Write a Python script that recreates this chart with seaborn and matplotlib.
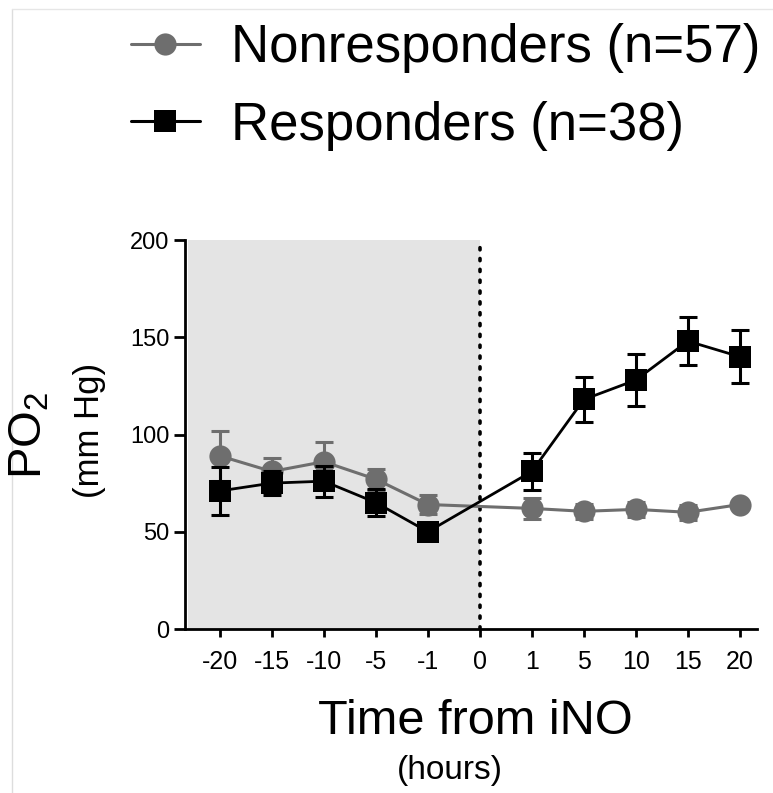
import matplotlib
matplotlib.use("Agg")
import matplotlib.pyplot as plt
from matplotlib.lines import Line2D
import numpy as np
import pandas as pd
import seaborn as sns

# Categorical time axis (hours from iNO start)
tick_labels = ["-20", "-15", "-10", "-5", "-1", "0", "1", "5", "10", "15", "20"]
hours = ["-20", "-15", "-10", "-5", "-1", "1", "5", "10", "15", "20"]

# PO2 (mm Hg), mean and SEM per group
nonresp_mean = [89, 81, 86, 77, 64, 62, 60.5, 61.5, 60, 64]
nonresp_sem = [13, 7, 10, 5.5, 5, 5.5, 4, 4, 4, 2]
resp_mean = [71, 75, 76, 65, 50, 81, 118, 128, 148, 140]
resp_sem = [12.5, 6, 8, 7, 3, 9.5, 11.5, 13.5, 12.5, 13.5]

groups = ["Nonresponders (n=57)", "Responders (n=38)"]
colors = {groups[0]: "#6e6e6e", groups[1]: "#000000"}

sns.set_style("ticks")
plt.rcParams["font.family"] = ["Liberation Sans", "DejaVu Sans"]
plt.rcParams["mathtext.fontset"] = "custom"
plt.rcParams["mathtext.rm"] = "Liberation Sans"
plt.rcParams["text.color"] = "black"
plt.rcParams["xtick.color"] = "black"
plt.rcParams["ytick.color"] = "black"
plt.rcParams["axes.edgecolor"] = "black"

pos = {lab: i for i, lab in enumerate(tick_labels)}
df = pd.DataFrame({
    "x": [pos[h] for h in hours] * 2,
    "po2": nonresp_mean + resp_mean,
    "sem": nonresp_sem + resp_sem,
    "group": [groups[0]] * len(hours) + [groups[1]] * len(hours),
})

fig = plt.figure(figsize=(7.73, 7.93), dpi=100)
ax = fig.add_axes([185 / 773, 1 - 629 / 793, (757 - 185) / 773, (629 - 240) / 793])

xlim = (-0.67, 10.33)
# Pre-iNO baseline period shading and the iNO start marker
ax.axvspan(xlim[0] + 0.05, pos["0"], ymin=0, ymax=1, color="#e4e4e4", zorder=0, lw=0)
ax.plot([pos["0"], pos["0"]], [0, 200], color="black", lw=2.6,
        linestyle=(0, (0.6, 2.4)), dash_capstyle="round", zorder=1)

styles = {
    groups[0]: dict(marker="o", lw=2.2, z=3),
    groups[1]: dict(marker="s", lw=2.0, z=4),
}
for g in groups:
    sub = df[df.group == g]
    st = styles[g]
    ax.errorbar(sub["x"], sub["po2"], yerr=sub["sem"], fmt="none",
                ecolor=colors[g], elinewidth=2.2, capsize=6.5, capthick=2.2,
                zorder=st["z"])
    sns.lineplot(data=sub, x="x", y="po2", ax=ax, color=colors[g],
                 marker=st["marker"], markersize=16, markeredgewidth=0,
                 linewidth=st["lw"], zorder=st["z"], legend=False,
                 errorbar=None, sort=False)

ax.set_xlim(*xlim)
ax.set_ylim(0, 200)
ax.set_xticks(range(len(tick_labels)))
ax.set_xticklabels(tick_labels)
ax.set_yticks([0, 50, 100, 150, 200])
ax.set_xlabel("")
ax.set_ylabel("")
for s in ["top", "right"]:
    ax.spines[s].set_visible(False)
for s in ["left", "bottom"]:
    ax.spines[s].set_linewidth(2.0)
ax.tick_params(axis="y", length=8, width=2.0, labelsize=17, pad=3)
ax.tick_params(axis="x", length=6, width=2.0, labelsize=18, pad=9)

# Axis titles
fig.text(30 / 773, 1 - 435 / 793, r"PO$_\mathregular{2}$", rotation=90,
         ha="center", va="center", fontsize=34)
fig.text(90 / 773, 1 - 430 / 793, "(mm Hg)", rotation=90,
         ha="center", va="center", fontsize=25)
fig.text(475 / 773, 1 - 722 / 793, "Time from iNO", ha="center", va="center",
         fontsize=35)
fig.text(450 / 773, 1 - 770 / 793, "(hours)", ha="center", va="center",
         fontsize=24)

# Legend
handles = [
    Line2D([], [], color=colors[groups[0]], marker="o", markersize=16,
           markeredgewidth=0, lw=2.2),
    Line2D([], [], color=colors[groups[1]], marker="s", markersize=16,
           markeredgewidth=0, lw=2.2),
]
fig.legend(handles, groups, loc="upper left",
           bbox_to_anchor=(110 / 773, 1 - 2 / 793), frameon=False,
           fontsize=38, handlelength=1.3, handletextpad=0.6,
           labelspacing=0.52, borderaxespad=0)

# Thin image frame
fig.add_artist(Line2D([12 / 773, 12 / 773], [0, 1 - 9 / 793],
                      color="#dddddd", lw=1, transform=fig.transFigure))
fig.add_artist(Line2D([12 / 773, 1], [1 - 9 / 793, 1 - 9 / 793],
                      color="#e6e6e6", lw=1, transform=fig.transFigure))

fig.savefig("out.png", dpi=100)
